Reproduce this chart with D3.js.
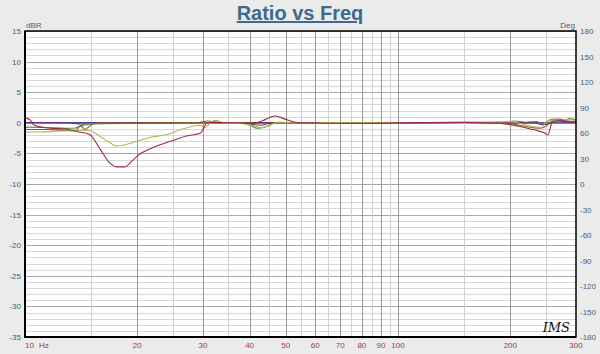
<!DOCTYPE html>
<html>
<head>
<meta charset="utf-8">
<script src="https://d3js.org/d3.v7.min.js"></script>
<style>
  html, body { margin: 0; padding: 0; background: #ebebeb; }
  svg { display: block; font-family: "Liberation Sans", Arial, sans-serif; }
  .tick-l { font-size: 8px; fill: #3d5f86; }
  .tick-b { font-size: 8px; fill: #a3305a; }
  .curve { fill: none; stroke-width: 1.1; }
</style>
</head>
<body>
<div id="chart"></div>
<script>
// tick labels
const dbTicks = [15, 10, 5, 0, -5, -10, -15, -20, -25, -30, -35];
const degTicks = [180, 150, 120, 90, 60, 30, 0, -30, -60, -90, -120, -150, -180];
const freqLabels = [10, 20, 30, 40, 50, 60, 70, 80, 90, 100, 200, 300];
const freqMajor = [20, 30, 40, 50, 60, 70, 80, 90, 100, 200];
const freqMinor = [15, 25, 35, 45, 55, 65, 75, 85, 95, 150, 250];

// series: [Hz, dB]
const seriesBlue = [[10, 0.05], [14, 0.0], [20, 0.05], [30, 0.0], [50, 0.05], [100, 0.0], [150, 0.05], [200, 0.0], [250, 0.0], [300, 0.0]];
const seriesPurple = [[10, 0.0], [13, 0.0], [14.2, -0.2], [14.6, 0.0], [20, 0.0], [30, 0.05], [38, 0.0], [41, -0.3], [43, -0.4], [45, -0.1], [50, 0.0],
  [100, 0.0], [150, 0.05], [200, 0.0], [230, 0.0], [245, -0.3], [255, -0.1], [265, 0.3], [280, 0.2], [300, 0.1]];
const seriesBrown = [[10, -1.1], [11.5, -1.1], [12.5, -1.2], [13.6, -1.3], [14.1, -0.5], [14.5, -1.1], [15, -0.4], [15.6, 0.0], [20, 0.0], [30, 0.05],
  [40, 0.0], [60, -0.05], [100, 0.0], [150, 0.1], [200, -0.1], [215, -0.5], [230, -0.8], [240, -0.9], [250, -0.5], [258, 0.3], [270, 0.6], [285, 0.3], [300, 0.2]];
const seriesGreen = [[10, -0.7], [12, -0.8], [13.5, -0.9], [14.1, -0.5], [14.6, -0.3], [15.2, -0.2], [20, -0.1], [29, 0.0], [30.8, 0.3], [33, 0.1],
  [38, 0.0], [40, -0.4], [42, -0.9], [44, -0.7], [46, -0.1], [48, 0.1], [55, 0.0], [100, 0.0], [150, 0.1], [190, 0.1], [205, 0.3], [220, 0.1],
  [235, 0.2], [245, -0.2], [255, 0.5], [263, 0.6], [275, 0.3], [290, 0.7], [300, 0.4]];
const seriesOlive = [[10, -1.5], [11, -1.5], [12, -1.4], [13, -1.3], [14, -1.2], [15, -1.3], [15.6, -1.9], [16.9, -3.25], [17.6, -3.8],
  [18.5, -3.6], [19.5, -3.2], [21.6, -2.4], [24, -1.9], [26.2, -1.1], [28, -0.6], [29.5, -0.4], [30.3, -0.8], [31.5, 0.1], [32.5, 0.4],
  [34, 0.0], [38, -0.1], [41, -0.5], [43, -0.8], [45, -0.5], [47, 0.0], [50, 0.0], [100, 0.05], [150, 0.0], [200, 0.2], [215, -0.2],
  [230, -0.6], [242, -0.8], [250, 0.2], [262, 0.5], [275, 0.4], [290, 0.6], [300, 0.2]];
const seriesRed = [[10, 0.8], [10.3, 0.5], [10.6, -0.4], [11.7, -0.9], [12.8, -1.0], [13.5, -1.3], [14, -1.5], [14.9, -1.9], [15.9, -4.3],
  [16.9, -6.6], [17.6, -7.2], [18.5, -7.2], [19.3, -6.3], [20.3, -5.1], [21.6, -4.3], [23, -3.6], [25.2, -2.8], [26.9, -2.2], [28.6, -1.9],
  [29.5, -1.7], [30.8, 0.0], [32.3, 0.1], [36, 0.0], [41, -0.1], [43.2, 0.3], [46.8, 1.1], [49.8, 0.6], [53, 0.1], [58, 0.0], [74, -0.1],
  [101, 0.0], [138, 0.05], [176, 0.0], [200, -0.3], [212, -0.6], [226, -1.0], [240, -1.4], [248, -1.7], [252, -2.0], [259, 0.0],
  [272, 0.4], [289, 0.1], [300, 0.1]];

const series = [
  { data: seriesBlue, color: "#1c1c9c" },
  { data: seriesGreen, color: "#3e9a3e" },
  { data: seriesPurple, color: "#7a2a82" },
  { data: seriesBrown, color: "#8a5a2a" },
  { data: seriesOlive, color: "#b4b850" },
  { data: seriesRed, color: "#a02848" }
];

const W = 600, H = 354;
const margin = { top: 31, right: 24, bottom: 17, left: 25 };
const width = W - margin.left - margin.right;
const height = H - margin.top - margin.bottom;

const svg = d3.select("#chart").append("svg")
  .attr("width", W).attr("height", H);

svg.append("rect").attr("width", W).attr("height", H).attr("fill", "#ebebeb");

const x = d3.scaleLog().domain([10, 300]).range([margin.left, margin.left + width]);
const y = d3.scaleLinear().domain([-35, 15]).range([margin.top + height, margin.top]);
const yDeg = d3.scaleLinear().domain([-180, 180]).range([margin.top + height, margin.top]);

// plot background
svg.append("rect")
  .attr("x", margin.left).attr("y", margin.top)
  .attr("width", width).attr("height", height)
  .attr("fill", "#ffffff");

// horizontal grid
const grid = svg.append("g").attr("shape-rendering", "crispEdges");
d3.range(-35, 16, 1).forEach(v => {
  grid.append("line")
    .attr("x1", margin.left).attr("x2", margin.left + width)
    .attr("y1", Math.round(y(v)) + 0.5).attr("y2", Math.round(y(v)) + 0.5)
    .attr("stroke", v % 5 === 0 ? "#a8a8a8" : "#d8d8d8");
});
// vertical grid
freqMinor.forEach(f => {
  grid.append("line")
    .attr("x1", Math.round(x(f)) + 0.5).attr("x2", Math.round(x(f)) + 0.5)
    .attr("y1", margin.top).attr("y2", margin.top + height)
    .attr("stroke", "#d0d0d0");
});
freqMajor.forEach(f => {
  grid.append("line")
    .attr("x1", Math.round(x(f)) + 0.5).attr("x2", Math.round(x(f)) + 0.5)
    .attr("y1", margin.top).attr("y2", margin.top + height)
    .attr("stroke", "#9a9a9a");
});

// curves
const line = d3.line()
  .x(d => x(d[0]))
  .y(d => y(d[1]))
  .curve(d3.curveMonotoneX);

series.forEach(s => {
  svg.append("path")
    .datum(s.data)
    .attr("class", "curve")
    .attr("stroke", s.color)
    .attr("d", line);
});

// frame
svg.append("rect")
  .attr("x", margin.left).attr("y", margin.top)
  .attr("width", width).attr("height", height)
  .attr("fill", "none").attr("stroke", "#000").attr("stroke-width", 1.5);
svg.append("line")
  .attr("x1", margin.left).attr("x2", margin.left)
  .attr("y1", margin.top).attr("y2", margin.top + height + 1)
  .attr("stroke", "#000").attr("stroke-width", 2);
svg.append("line")
  .attr("x1", margin.left - 1).attr("x2", margin.left + width)
  .attr("y1", margin.top + height).attr("y2", margin.top + height)
  .attr("stroke", "#000").attr("stroke-width", 2);

// left axis labels
svg.append("g").selectAll("text")
  .data(dbTicks).enter().append("text")
  .attr("class", "tick-l")
  .attr("x", margin.left - 4)
  .attr("y", d => y(d) + 3)
  .attr("text-anchor", "end")
  .text(d => d);

// right axis labels
svg.append("g").selectAll("text")
  .data(degTicks).enter().append("text")
  .attr("class", "tick-l")
  .attr("x", margin.left + width + 4)
  .attr("y", d => yDeg(d) + 3)
  .attr("text-anchor", "start")
  .text(d => d);

// bottom labels
svg.append("g").selectAll("text")
  .data(freqLabels).enter().append("text")
  .attr("class", "tick-b")
  .attr("x", d => x(d))
  .attr("y", H - 6)
  .attr("text-anchor", d => d === 10 ? "start" : "middle")
  .text(d => d);
svg.append("text")
  .attr("class", "tick-b")
  .attr("x", x(10) + 14).attr("y", H - 6)
  .text("Hz");

// unit labels
svg.append("text").attr("class", "tick-l")
  .attr("x", margin.left + 1).attr("y", margin.top - 3)
  .text("dBR");
svg.append("text").attr("class", "tick-l")
  .attr("x", margin.left + width - 1).attr("y", margin.top - 3)
  .attr("text-anchor", "end")
  .text("Deg");

// title
svg.append("text")
  .attr("x", W / 2).attr("y", 20)
  .attr("text-anchor", "middle")
  .attr("font-size", 20).attr("font-weight", "bold")
  .attr("fill", "#3d6a90")
  .attr("text-decoration", "underline")
  .text("Ratio vs Freq");

// logo
svg.append("text")
  .attr("x", margin.left + width - 6).attr("y", margin.top + height - 5)
  .attr("text-anchor", "end")
  .attr("font-family", "DejaVu Serif, serif")
  .attr("font-style", "italic")
  .attr("font-size", 13)
  .attr("fill", "#111")
  .text("IMS");
</script>
</body>
</html>
